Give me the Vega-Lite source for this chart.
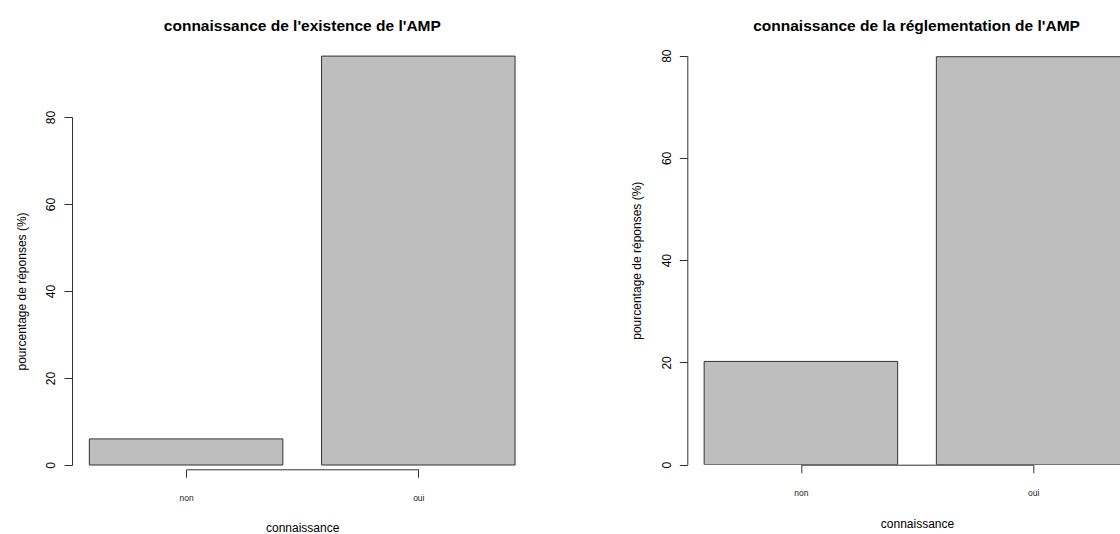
{
  "$schema": "https://vega.github.io/schema/vega-lite/v6.json",
  "padding": {"left": 15, "top": 18, "right": 0, "bottom": 0},
  "background": "white",
  "config": {"view": {"stroke": null}, "font": "Liberation Sans"},
  "datasets": {
    "existence": [
      {"connaissance": "non", "pourcentage": 6.0},
      {"connaissance": "oui", "pourcentage": 94.0}
    ],
    "reglementation": [
      {"connaissance": "non", "pourcentage": 20.2},
      {"connaissance": "oui", "pourcentage": 79.8}
    ]
  },
  "bounds": "flush",
  "spacing": 154.3,
  "hconcat": [
    {
      "data": {"name": "existence"},
      "title": {"text": "connaissance de l'existence de l'AMP", "fontSize": 15.5, "fontWeight": "bold", "font": "Liberation Sans", "color": "black", "frame": "group", "anchor": "middle", "baseline": "alphabetic", "offset": -2},
      "width": 460.7,
      "height": 425.3,
      "mark": {"type": "bar", "width": 193.5, "fill": "#BEBEBE", "stroke": "#333333", "strokeWidth": 1, "clip": true},
      "encoding": {
        "x": {
          "field": "connaissance", "type": "nominal",
          "scale": {"type": "point", "range": [114.1, 346.3], "padding": 0},
          "axis": {"title": "connaissance", "domain": true, "domainColor": "#333333", "ticks": true, "tickSize": 8, "tickColor": "#333333", "labelFontSize": 8.5, "labelColor": "#222222", "labelPadding": 20, "labelBaseline": "middle", "labelAngle": 0, "titleFontSize": 12, "titleFontWeight": "normal", "titleColor": "black", "titleY": 58.5, "titleBaseline": "middle", "grid": false}
        },
        "y": {
          "field": "pourcentage", "type": "quantitative",
          "scale": {"domain": [0, 80], "range": [421, 73], "nice": false},
          "axis": {"title": "pourcentage de réponses (%)", "values": [0, 20, 40, 60, 80], "domain": true, "domainColor": "#333333", "tickSize": 8, "tickColor": "#333333", "labelAngle": -90, "labelAlign": "center", "labelBaseline": "middle", "labelPadding": 13.3, "labelFontSize": 12, "labelColor": "black", "labelFlush": false, "labelOverlap": false, "titleFontSize": 12, "titleFontWeight": "normal", "titleColor": "black", "titleX": -51, "titleBaseline": "middle", "grid": false}
        }
      }
    },
    {
      "data": {"name": "reglementation"},
      "title": {"text": "connaissance de la réglementation de l'AMP", "fontSize": 15.5, "fontWeight": "bold", "font": "Liberation Sans", "color": "black", "frame": "group", "anchor": "middle", "baseline": "alphabetic", "offset": -2, "dx": 12.9},
      "width": 432.7,
      "height": 420.7,
      "mark": {"type": "bar", "width": 193.5, "fill": "#BEBEBE", "stroke": "#333333", "strokeWidth": 1, "clip": true},
      "encoding": {
        "x": {
          "field": "connaissance", "type": "nominal",
          "scale": {"type": "point", "range": [113.6, 345.8], "padding": 0},
          "axis": {"title": "connaissance", "domain": true, "domainColor": "#333333", "ticks": true, "tickSize": 8, "tickColor": "#333333", "labelFontSize": 8.5, "labelColor": "#222222", "labelPadding": 20, "labelBaseline": "middle", "labelAngle": 0, "titleFontSize": 12, "titleFontWeight": "normal", "titleColor": "black", "titleY": 58.5, "titleBaseline": "middle", "grid": false}
        },
        "y": {
          "field": "pourcentage", "type": "quantitative",
          "scale": {"domain": [0, 80], "range": [420.7, 11.7], "nice": false},
          "axis": {"title": "pourcentage de réponses (%)", "values": [0, 20, 40, 60, 80], "domain": true, "domainColor": "#333333", "tickSize": 8, "tickColor": "#333333", "labelAngle": -90, "labelAlign": "center", "labelBaseline": "middle", "labelPadding": 13.3, "labelFontSize": 12, "labelColor": "black", "labelFlush": false, "labelOverlap": false, "titleFontSize": 12, "titleFontWeight": "normal", "titleColor": "black", "titleX": -51, "titleBaseline": "middle", "grid": false}
        }
      }
    }
  ]
}
